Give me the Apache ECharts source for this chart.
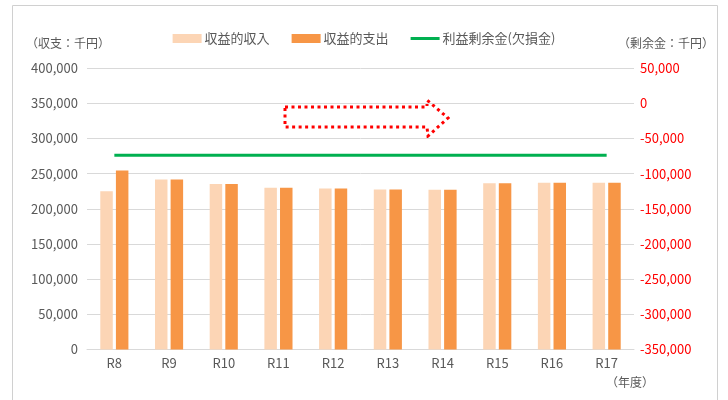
<!DOCTYPE html>
<html><head><meta charset="utf-8">
<script src="https://cdn.jsdelivr.net/npm/echarts@6/dist/echarts.min.js"></script>
<style>html,body{margin:0;padding:0;background:#fff}#c{width:728px;height:400px}</style>
</head><body><div id="c"></div>
<script>
var categories = ['R8','R9','R10','R11','R12','R13','R14','R15','R16','R17'];
var income = [225000, 241500, 235000, 229700, 228700, 227300, 226900, 236200, 236800, 236800];
var expense = [254300, 241500, 235200, 229700, 228700, 227300, 226900, 236200, 236800, 236800];
var surplus = [-74000, -74000, -74000, -74000, -74000, -74000, -74000, -74000, -74000, -74000];
var seriesNames = ['収益的収入', '収益的支出', '利益剰余金(欠損金)'];

var FONT = '"Noto Sans CJK JP", "Noto Sans", sans-serif';
function fmt(v){ return String(v).replace(/\B(?=(\d{3})+(?!\d))/g, ','); }

var chart = echarts.init(document.getElementById('c'), null, {renderer:'canvas'});
chart.setOption({
  animation: false,
  textStyle: {fontFamily: FONT},
  grid: {left: 87, right: 94, top: 68, bottom: 50.5, containLabel: false},
  legend: {
    top: 27, left: 'center',
    itemWidth: 29, itemHeight: 9, itemGap: 22,
    textStyle: {color: '#595959', fontSize: 13, fontFamily: FONT, padding: [0,0,0,-2]},
    data: [
      {name: seriesNames[0], icon: 'rect'},
      {name: seriesNames[1], icon: 'rect'},
      {name: seriesNames[2], icon: 'path://M0,0L29,0L29,3L0,3Z'}
    ]
  },
  xAxis: {
    type: 'category', data: categories,
    axisLine: {lineStyle: {color: '#D9D9D9'}},
    axisTick: {show: false},
    axisLabel: {color: '#595959', fontSize: 13, margin: 7, fontFamily: FONT}
  },
  yAxis: [
    {type: 'value', min: 0, max: 400000, interval: 50000,
     axisLine: {show: false}, axisTick: {show: false},
     splitLine: {lineStyle: {color: '#D9D9D9'}},
     axisLabel: {color: '#595959', fontSize: 13, margin: 9, fontFamily: FONT, formatter: fmt}},
    {type: 'value', min: -350000, max: 50000, interval: 50000,
     axisLine: {show: false}, axisTick: {show: false},
     splitLine: {show: false},
     axisLabel: {color: '#FF0000', fontSize: 13, margin: 6, fontFamily: FONT, formatter: function(v){ return v < 0 ? '-' + fmt(-v) : fmt(v); }}}
  ],
  series: [
    {name: seriesNames[0], type: 'bar', data: income, barWidth: 12.5, barGap: '25%',
     itemStyle: {color: '#FCD5B5'}},
    {name: seriesNames[1], type: 'bar', data: expense, barWidth: 12.5,
     itemStyle: {color: '#F79646'}},
    {name: seriesNames[2], type: 'line', yAxisIndex: 1, data: surplus, symbol: 'none',
     lineStyle: {color: '#00B050', width: 3}, itemStyle: {color: '#00B050'}}
  ],
  graphic: [
    {type: 'rect', shape: {x: 12.5, y: 5.5, width: 705, height: 420}, style: {fill: 'none', stroke: '#D0D0D0', lineWidth: 1}, silent: true},
    {type: 'text', left: 26, top: 37, style: {text: '（収支：千円）', fill: '#595959', font: '12px ' + FONT}},
    {type: 'text', right: 14, top: 37, style: {text: '（剰余金：千円）', fill: '#595959', font: '12px ' + FONT}},
    {type: 'text', left: 606, top: 376, style: {text: '（年度）', fill: '#595959', font: '12px ' + FONT}},
    {type: 'polygon', shape: {points: [[285,107],[427,107],[427,100],[448,118],[428,136],[427,127],[285,127]]},
     style: {fill: 'none', stroke: '#FF0000', lineWidth: 3, lineDash: [3, 3.5]}, silent: true}
  ]
});
</script></body></html>
